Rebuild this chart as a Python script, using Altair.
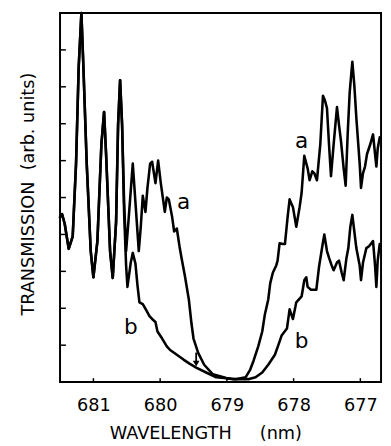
import altair as alt
import pandas as pd

# Shared left part (both traces coincide) : wavelength (nm), transmission (arb.)
wl_left = [681.50, 681.47, 681.43, 681.37, 681.31, 681.26, 681.22, 681.18, 681.15, 681.10,
           681.04, 681.00, 680.94, 680.88, 680.84, 680.81, 680.75, 680.71, 680.66, 680.63,
           680.60, 680.57]
tr_left = [4.47, 4.55, 4.29, 3.61, 3.95, 5.92, 8.55, 10.0, 8.55, 5.92,
           3.55, 2.84, 3.82, 6.45, 7.32, 6.18, 3.55, 2.82, 4.34, 6.97,
           8.18, 6.97]

# Curve a (rest)
wl_a = [680.54, 680.51, 680.47, 680.41, 680.37, 680.32, 680.29, 680.26, 680.22, 680.19,
        680.15, 680.12, 680.07, 680.03, 679.99, 679.93, 679.90, 679.87, 679.82, 679.79,
        679.75, 679.71, 679.68, 679.63, 679.57, 679.53, 679.50, 679.43, 679.34, 679.21,
        679.01, 678.87, 678.72, 678.65, 678.60, 678.53, 678.47, 678.43, 678.38, 678.35,
        678.31, 678.26, 678.24, 678.21, 678.16, 678.13, 678.09, 678.06, 678.01, 677.96,
        677.91, 677.88, 677.84, 677.79, 677.76, 677.72, 677.69, 677.65, 677.60, 677.56,
        677.53, 677.50, 677.47, 677.44, 677.40, 677.35, 677.32, 677.29, 677.25, 677.22,
        677.19, 677.16, 677.12, 677.09, 677.06, 677.01, 676.99, 676.96, 676.93, 676.90,
        676.85, 676.81, 676.78, 676.76, 676.74, 676.71]
tr_a = [4.87, 3.55, 4.47, 5.92, 4.87, 3.55, 4.21, 5.05, 4.61, 5.26,
        5.92, 5.97, 5.39, 6.00, 5.39, 4.61, 5.00, 4.95, 4.47, 4.08,
        4.16, 3.68, 3.37, 2.89, 2.24, 1.58, 1.18, 0.79, 0.47, 0.21,
        0.11, 0.08, 0.13, 0.34, 0.58, 0.97, 1.37, 1.84, 2.24, 2.68,
        2.97, 3.16, 3.29, 3.76, 3.74, 3.74, 4.47, 4.95, 4.74, 4.21,
        4.74, 5.13, 6.13, 5.79, 5.47, 5.71, 5.66, 5.47, 6.45, 7.76,
        7.63, 7.42, 6.45, 5.58, 6.45, 7.45, 6.97, 6.53, 5.79, 5.32,
        6.71, 7.84, 8.68, 8.03, 7.16, 5.92, 5.26, 5.66, 5.84, 6.18,
        6.45, 6.71, 6.18, 5.84, 6.32, 6.63]

# Curve b (rest)
wl_b = [680.54, 680.51, 680.49, 680.44, 680.41, 680.37, 680.34, 680.31, 680.26, 680.24,
        680.19, 680.16, 680.12, 680.07, 680.04, 679.97, 679.90, 679.85, 679.75, 679.65,
        679.56, 679.46, 679.31, 679.16, 679.04, 678.91, 678.79, 678.68, 678.57, 678.47,
        678.38, 678.28, 678.22, 678.18, 678.10, 678.06, 678.01, 677.96, 677.88, 677.84,
        677.81, 677.79, 677.74, 677.69, 677.66, 677.62, 677.57, 677.54, 677.50, 677.47,
        677.43, 677.40, 677.35, 677.32, 677.28, 677.25, 677.21, 677.18, 677.15, 677.12,
        677.09, 677.06, 677.01, 676.99, 676.96, 676.91, 676.87, 676.81, 676.78, 676.76,
        676.74, 676.71]
tr_b = [4.61, 3.16, 2.58, 3.24, 3.50, 3.21, 2.63, 2.16, 2.11, 2.05,
        1.89, 1.79, 1.71, 1.63, 1.37, 1.18, 0.97, 0.87, 0.74, 0.61,
        0.50, 0.39, 0.26, 0.13, 0.11, 0.08, 0.08, 0.08, 0.13, 0.26,
        0.47, 0.74, 1.05, 1.26, 1.45, 1.97, 1.71, 2.16, 2.32, 2.76,
        2.84, 2.58, 2.50, 2.50, 2.50, 3.11, 3.68, 4.00, 3.55, 3.37,
        3.16, 3.03, 3.24, 3.29, 2.97, 2.76, 3.34, 3.63, 4.21, 4.53,
        4.08, 3.63, 3.16, 2.76, 3.24, 3.63, 3.68, 3.82, 3.16, 2.58,
        3.29, 3.74]

# Curve labels
lab_text = ["a", "a", "b", "b"]
lab_wl = [679.65, 677.88, 680.44, 677.88]
lab_tr = [4.87, 6.53, 1.50, 1.11]

# Arrow marker
arrow_wl = [679.46]
arrow_top = [0.80]
arrow_tip = [0.50]

x_ticks = [681, 680, 679, 678, 677]
y_ticks = [1, 2, 3, 4, 5, 6, 7, 8, 9]

rows = []
for name, wl, tr in [("a", wl_left + wl_a, tr_left + tr_a), ("b", wl_left + wl_b, tr_left + tr_b)]:
    for i, (w, t) in enumerate(zip(wl, tr)):
        rows.append({"wl": w, "tr": t, "curve": name, "i": i})
df = pd.DataFrame(rows)

W, H = 327, 376
FONT = "DejaVu Sans"

xscale = alt.Scale(domain=[676.69, 681.5], reverse=True, nice=False, zero=False)
yscale = alt.Scale(domain=[0, 10], nice=False, zero=False)

xaxis = alt.Axis(values=x_ticks, ticks=False, domain=False, grid=False,
                 labelFont=FONT, labelFontSize=18, labelColor="black", labelPadding=15,
                 labelFlush=False, format="d",
                 title="WAVELENGTH\u00a0\u00a0\u00a0\u00a0\u00a0(nm)", titleFont=FONT, titleFontSize=18,
                 titleFontWeight="normal", titleColor="black",
                 titleX=148, titleY=57, titleBaseline="alphabetic", titleAnchor="middle")
yaxis = alt.Axis(labels=False, ticks=False, domain=False, grid=False,
                 title="TRANSMISSION\u00a0\u00a0(arb. units)", titleFont=FONT, titleFontSize=18,
                 titleFontWeight="normal", titleColor="black",
                 titleX=-27, titleY=184, titleBaseline="alphabetic", titleAngle=-90)

lines = alt.Chart(df).mark_line(color="black", strokeWidth=2.6, clip=False,
                                strokeJoin="round", strokeCap="round").encode(
    x=alt.X("wl:Q", scale=xscale, axis=xaxis),
    y=alt.Y("tr:Q", scale=yscale, axis=yaxis),
    detail="curve:N",
    order="i:Q",
)

labels = alt.Chart(pd.DataFrame({"t": lab_text, "wl": lab_wl, "tr": lab_tr})).mark_text(
    font=FONT, fontSize=22, color="black", align="center", baseline="middle"
).encode(x=alt.X("wl:Q", scale=xscale), y=alt.Y("tr:Q", scale=yscale), text="t:N")

arrow_df = pd.DataFrame({"wl": arrow_wl, "top": arrow_top, "tip": arrow_tip})
arrow_line = alt.Chart(arrow_df).mark_rule(color="black", strokeWidth=1.8).encode(
    x=alt.X("wl:Q", scale=xscale), y=alt.Y("top:Q", scale=yscale), y2="tip:Q")
arrow_head = alt.Chart(arrow_df).mark_point(shape="triangle-down", filled=True, color="black",
                                            size=45, opacity=1).encode(
    x=alt.X("wl:Q", scale=xscale), y=alt.Y("tip:Q", scale=yscale))

xt = alt.Chart(pd.DataFrame({"v": x_ticks})).mark_rule(color="black", strokeWidth=1.5).encode(
    x=alt.X("v:Q", scale=xscale), y=alt.value(H), y2=alt.value(H - 4))
yt = alt.Chart(pd.DataFrame({"v": y_ticks})).mark_rule(color="black", strokeWidth=1.5).encode(
    y=alt.Y("v:Q", scale=yscale), x=alt.value(0), x2=alt.value(6))

chart = alt.layer(lines, labels, arrow_line, arrow_head, xt, yt).properties(
    width=W, height=H,
    autosize=alt.AutoSizeParams(type="none"),
    padding={"left": 53, "top": 1, "right": 2, "bottom": 60},
    background="white",
).configure_view(stroke="black", strokeWidth=2)

chart.save("out.html", embed_options={"renderer": "svg", "actions": False})
